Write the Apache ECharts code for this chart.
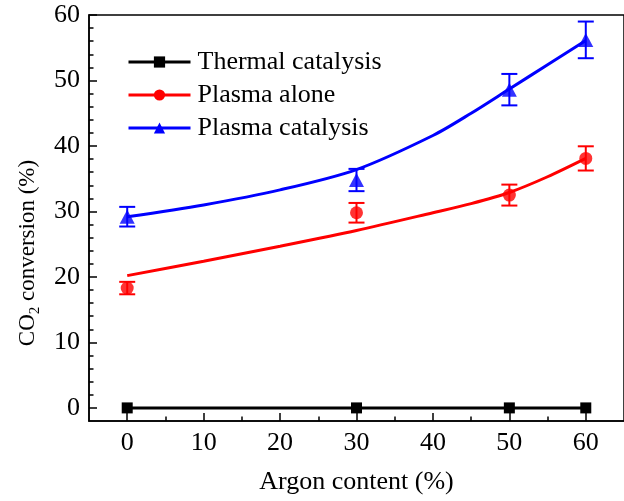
<!DOCTYPE html>
<html>
<head>
<meta charset="utf-8">
<script src="https://cdn.jsdelivr.net/npm/echarts@6/dist/echarts.min.js"></script>
<style>
  html, body { margin: 0; padding: 0; background: #fff; }
  #chart { width: 624px; height: 501px; }
</style>
</head>
<body>
<div id="chart"></div>
<script>
// Measured CO2 conversion (%) at each argon content (%)
const argon = [0, 30, 50, 60];
const thermal = [0, 0, 0, 0];
const plasmaAlone = [18.3, 29.8, 32.5, 38.1];
const plasmaAloneErr = [0.95, 1.5, 1.6, 1.85];
const plasmaCat = [29.2, 34.8, 48.6, 56.2];
const plasmaCatErr = [1.5, 1.7, 2.4, 2.8];

// Fitted trend curves
const fitX = [0, 10, 20, 30, 40, 45, 50, 55, 60];
const fitAlone = [20.2, 22.4, 24.7, 27.1, 29.8, 31.2, 32.9, 35.3, 38.1];
const fitCat = [29.2, 31.0, 33.3, 36.4, 41.6, 45.0, 48.7, 52.4, 56.1];

// Tick positions
const xMajor = [0, 10, 20, 30, 40, 50, 60];
const xMinor = [5, 15, 25, 35, 45, 55];
const yMajor = [0, 10, 20, 30, 40, 50, 60];
const yMinor = [2, 4, 6, 8, 12, 14, 16, 18, 22, 24, 26, 28, 32, 34, 36, 38, 42, 44, 46, 48, 52, 54, 56, 58];

const FONT = '"Liberation Serif", "Times New Roman", serif';
const X_RANGE = { min: -5, max: 65 };
const Y_RANGE = { min: -2, max: 60 };
const gridBox = { left: 89, top: 15, right: -11, bottom: 80 };

const pairs = (xs, ys) => xs.map((x, i) => [x, ys[i]]);

function errorBars(name, values, errs, color) {
  return {
    type: 'custom',
    name: name,
    xAxisIndex: 0,
    yAxisIndex: 0,
    silent: true,
    z: 3,
    encode: { x: 0, y: [1, 2] },
    data: argon.map((x, i) => [x, values[i] - errs[i], values[i] + errs[i]]),
    renderItem: function (params, api) {
      const lo = api.coord([api.value(0), api.value(1)]);
      const hi = api.coord([api.value(0), api.value(2)]);
      const hw = 8;
      const style = { stroke: color, lineWidth: 2, fill: null };
      return {
        type: 'group',
        children: [
          { type: 'line', shape: { x1: lo[0], y1: lo[1], x2: hi[0], y2: hi[1] }, style: style },
          { type: 'line', shape: { x1: lo[0] - hw, y1: lo[1], x2: lo[0] + hw, y2: lo[1] }, style: style },
          { type: 'line', shape: { x1: hi[0] - hw, y1: hi[1], x2: hi[0] + hw, y2: hi[1] }, style: style }
        ]
      };
    }
  };
}

const axisLineStyle = { color: '#000', width: 1.5 };

const option = {
  backgroundColor: '#fff',
  animation: false,
  grid: [
    Object.assign({ show: true, borderColor: '#000', borderWidth: 1.5, backgroundColor: 'transparent' }, gridBox),
    Object.assign({}, gridBox)
  ],
  xAxis: [
    Object.assign({
      type: 'value', gridIndex: 0, position: 'bottom',
      axisLine: { onZero: false, lineStyle: axisLineStyle },
      axisTick: { inside: true, length: 8, customValues: xMajor, lineStyle: axisLineStyle },
      axisLabel: { customValues: xMajor, color: '#000', fontFamily: FONT, fontSize: 26, margin: 9 },
      splitLine: { show: false },
      name: 'Argon content (%)',
      nameLocation: 'middle',
      nameGap: 48,
      nameTextStyle: { color: '#000', fontFamily: FONT, fontSize: 26 }
    }, X_RANGE),
    Object.assign({
      type: 'value', gridIndex: 1, position: 'bottom',
      axisLine: { show: false, onZero: false },
      axisTick: { inside: true, length: 4.5, customValues: xMinor, lineStyle: axisLineStyle },
      axisLabel: { show: false },
      splitLine: { show: false }
    }, X_RANGE)
  ],
  yAxis: [
    Object.assign({
      type: 'value', gridIndex: 0, position: 'left',
      axisLine: { show: true, onZero: false, lineStyle: axisLineStyle },
      axisTick: { show: true, inside: true, length: 8, customValues: yMajor, lineStyle: axisLineStyle },
      axisLabel: { customValues: yMajor, color: '#000', fontFamily: FONT, fontSize: 26, margin: 9 },
      splitLine: { show: false }
    }, Y_RANGE),
    Object.assign({
      type: 'value', gridIndex: 1, position: 'left',
      axisLine: { show: false, onZero: false },
      axisTick: { show: true, inside: true, length: 4.5, customValues: yMinor, lineStyle: axisLineStyle },
      axisLabel: { show: false },
      splitLine: { show: false }
    }, Y_RANGE)
  ],
  legend: {
    orient: 'vertical',
    left: 122,
    top: 44,
    itemWidth: 62,
    itemHeight: 14,
    itemGap: 7,
    lineStyle: { width: 3 },
    data: ['Thermal catalysis', 'Plasma alone', 'Plasma catalysis'],
    textStyle: { color: '#000', fontFamily: FONT, fontSize: 26, lineHeight: 26, padding: [0, 0, 0, 2] }
  },
  graphic: [{
    type: 'text',
    x: 28,
    y: 253,
    rotation: Math.PI / 2,
    style: {
      text: 'CO{sub|2} conversion (%)',
      fill: '#000',
      font: '23px ' + FONT,
      align: 'center',
      verticalAlign: 'middle',
      lineHeight: 30,
      rich: {
        sub: { fontSize: 15, fontFamily: FONT, fill: '#000', verticalAlign: 'bottom', lineHeight: 16 }
      }
    }
  }],
  series: [
    {
      name: 'Thermal catalysis',
      type: 'line',
      data: pairs(argon, thermal),
      symbol: 'rect',
      symbolSize: 11,
      itemStyle: { color: '#000' },
      lineStyle: { color: '#000', width: 3 },
      z: 4
    },
    {
      name: 'Plasma alone',
      type: 'line',
      data: pairs(fitX, fitAlone),
      smooth: 0.3,
      symbol: 'circle',
      showSymbol: false,
      itemStyle: { color: '#ff0000' },
      lineStyle: { color: '#ff0000', width: 3 },
      z: 2
    },
    {
      name: 'Plasma catalysis',
      type: 'line',
      data: pairs(fitX, fitCat),
      smooth: 0.3,
      symbol: 'triangle',
      showSymbol: false,
      itemStyle: { color: '#0000ff' },
      lineStyle: { color: '#0000ff', width: 3 },
      z: 2
    },
    errorBars('Plasma alone', plasmaAlone, plasmaAloneErr, '#ff0000'),
    errorBars('Plasma catalysis', plasmaCat, plasmaCatErr, '#0000ff'),
    {
      name: 'Plasma alone',
      type: 'scatter',
      data: pairs(argon, plasmaAlone),
      symbol: 'circle',
      symbolSize: 13,
      itemStyle: { color: '#ff0000' },
      z: 5
    },
    {
      name: 'Plasma catalysis',
      type: 'scatter',
      data: pairs(argon, plasmaCat),
      symbol: 'triangle',
      symbolSize: [15, 14],
      itemStyle: { color: '#0000ff' },
      z: 5
    }
  ]
};

const chart = echarts.init(document.getElementById('chart'), null, { renderer: 'canvas' });
chart.setOption(option);
</script>
</body>
</html>
